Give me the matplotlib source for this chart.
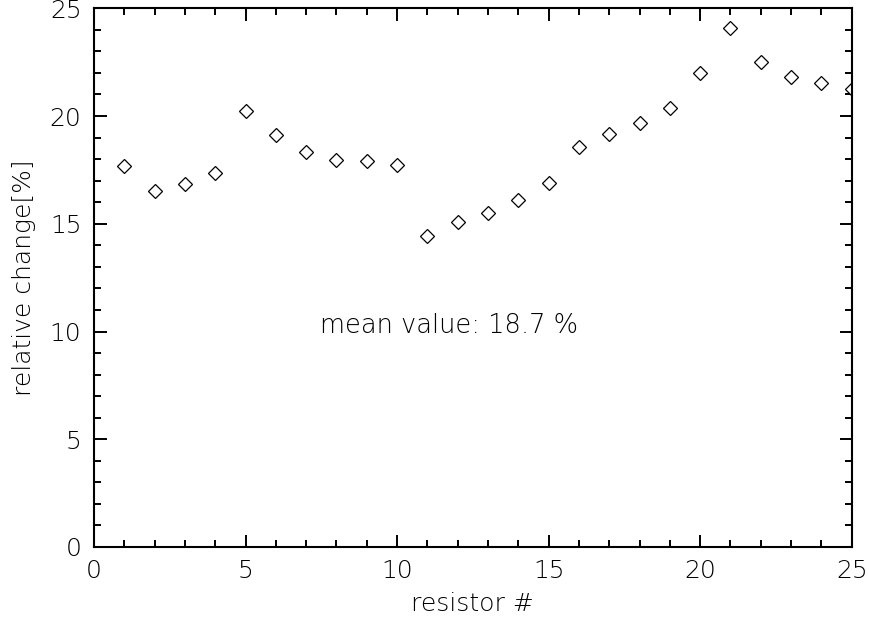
import matplotlib
matplotlib.use("Agg")
import matplotlib.pyplot as plt
from matplotlib.ticker import MultipleLocator

# resistor number and relative change in percent
resistor = [1, 2, 3, 4, 5, 6, 7, 8, 9, 10, 11, 12, 13,
            14, 15, 16, 17, 18, 19, 20, 21, 22, 23, 24, 25]
rel_change = [17.68, 16.52, 16.84, 17.35, 20.23, 19.12, 18.33, 17.96, 17.91, 17.73,
              14.43, 15.08, 15.50, 16.10, 16.89, 18.56, 19.16, 19.67, 20.37, 21.99,
              24.08, 22.50, 21.81, 21.53, 21.25]
mean_text = "mean value: 18.7 %"

plt.rcParams['font.family'] = ['DejaVu Sans']
plt.rcParams['font.weight'] = 'light'
plt.rcParams['axes.labelweight'] = 'light'
fig = plt.figure(figsize=(8.7, 6.24), dpi=100)
ax = fig.add_axes([0.108, 0.1234, 0.871, 0.8633])

ax.plot(resistor, rel_change, linestyle='none', marker='D', markersize=7,
        markerfacecolor='white', markeredgecolor='black', markeredgewidth=0.9)

ax.set_xlim(0, 25)
ax.set_ylim(0, 25)
ax.xaxis.set_major_locator(MultipleLocator(5))
ax.xaxis.set_minor_locator(MultipleLocator(1))
ax.yaxis.set_major_locator(MultipleLocator(5))
ax.yaxis.set_minor_locator(MultipleLocator(1))
ax.tick_params(which='both', direction='in', top=True, right=True,
               width=1.4, labelsize=18, pad=9)
ax.tick_params(which='major', length=9)
ax.tick_params(which='minor', length=5)
for s in ax.spines.values():
    s.set_linewidth(1.5)

ax.text(7.45, 10.3, mean_text, fontsize=18.5, ha='left', va='center')
ax.set_xlabel("resistor #", fontsize=18, labelpad=6)
ax.set_ylabel("relative change[%]", fontsize=18, labelpad=10)

fig.savefig("out.png", dpi=100)
